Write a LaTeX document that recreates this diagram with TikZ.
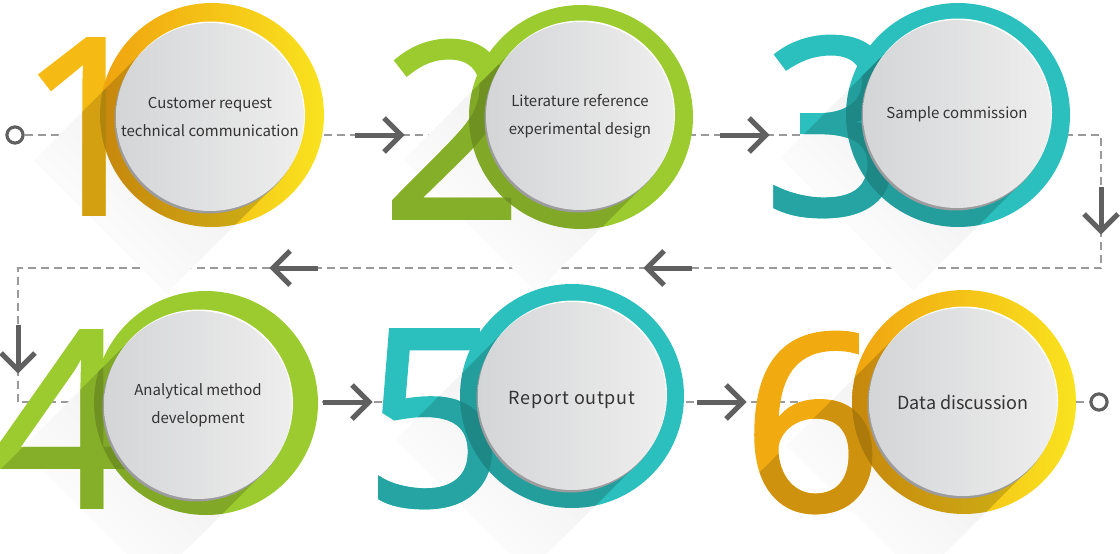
\documentclass[tikz,border=0pt]{standalone}
\usepackage{fontspec}
\newfontfamily\src{Noto Sans CJK SC}
\newfontfamily\numfont{Open Sans}[FakeBold=1.6]
\usetikzlibrary{calc}
\definecolor{dashgray}{HTML}{9A9A9A}
\definecolor{arrgray}{HTML}{606060}
\definecolor{ringO}{HTML}{F0A30F}
\definecolor{ringY}{HTML}{F9E31F}
\definecolor{numO}{HTML}{F5BA14}
\definecolor{numO6}{HTML}{F1AA10}
\definecolor{grn}{HTML}{9CCB2F}
\definecolor{tea}{HTML}{2BBFBE}
\definecolor{discL}{HTML}{D4D5D7}
\definecolor{discR}{HTML}{EEEEEE}
\definecolor{rimdark}{HTML}{9C9C9E}
\definecolor{txt}{HTML}{333333}
\tikzset{
  dashline/.style={draw=dashgray, line width=1.4pt, dash pattern=on 8pt off 5pt},
  arrowline/.style={draw=arrgray, line width=5pt},
  endpoint/.style={circle, draw=arrgray, line width=3pt, fill=white, minimum size=16pt, inner sep=0pt},
  greydisc/.style={circle, minimum size=188pt, inner sep=0pt, left color=discL, right color=discR, text=txt, align=center, font=\src\fontsize{15}{28}\selectfont},
  numeral/.style={anchor=base west, inner sep=0pt, font=\numfont\fontsize{245}{245}\selectfont},
  chevron/.pic={\draw[arrowline, line join=miter] (-17,17) -- (0,0) -- (-17,-17);}
}
\newcommand\drawstage[8]{%
  \coordinate (g#1) at (#3);
  \coordinate (r#1) at (#2);
  \path[top color=black!8, bottom color=white, shading angle=-45]
    ($(g#1)+(-66.5,-66.5)$) -- ($(g#1)+(66.5,66.5)$) -- ($(g#1)+(-43.5,176.5)$) -- ($(g#1)+(-176.5,43.5)$) -- cycle;
  \node[numeral, text=#7] (n#1) at (#5) {#6};
  \path[#4] (r#1) circle[radius=112];
  \begin{scope}
    \clip ($(g#1)+(-66.5,-66.5)$) -- ($(g#1)+(66.5,66.5)$) -- ($(g#1)+(-133.5,266.5)$) -- ($(g#1)+(-266.5,133.5)$) -- cycle;
    \node[numeral, text=#7!86!black] at (#5) {#6};
    \fill[black, opacity=.17] (r#1) circle[radius=112];
  \end{scope}
  \fill[rimdark] ($(g#1)+(-1.5,2.5)$) circle[radius=94];
  \fill[white] ($(g#1)+(1,-1.5)$) circle[radius=94];
  \node[greydisc] (s#1) at (g#1) {#8};
}
\begin{document}
\begin{tikzpicture}[x=1pt,y=-1pt]
\useasboundingbox (0,0) rectangle (1120,554);
% dashed route
\node[endpoint] (start) at (15,135) {};
\node[endpoint] (end) at (1099,402) {};
\coordinate (c1) at (1101,135);
\coordinate (c2) at (1101,268);
\coordinate (c3) at (18,268);
\coordinate (c4) at (18,402);
\draw[dashline] (start) -- (c1) -- (c2) -- (c3) -- (c4) -- (end);
\node[endpoint] at (start) {};
% stages
\drawstage{1}{212,115}{210,117}{left color=ringO, right color=ringY}{18,214}{1}{numO}{Customer request\\technical communication}
\drawstage{2}{581,117}{580,116}{fill=grn}{382,218}{2}{grn}{Literature reference\\experimental design}
\drawstage{3}{958,115}{957,114}{fill=tea}{764,214}{3}{tea}{\raisebox{-4pt}[0pt][0pt]{Sample commission}}
\drawstage{4}{206,403}{198,405}{fill=grn}{-8,507}{4}{grn}{Analytical method\\development}
\drawstage{5}{572,396}{572,396}{fill=tea}{364,505}{5}{tea}{\raisebox{-8.5pt}[0pt][0pt]{\fontsize{18}{28}\selectfont\addfontfeature{LetterSpace=4}Report output}}
\drawstage{6}{964,402}{963,402}{left color=ringO!90!numO6, right color=ringY}{742,510}{6}{numO6}{{\fontsize{18}{28}\selectfont Data discussion}}
\node[endpoint] at (end) {};
% arrows
\coordinate (a1) at (355,135); \coordinate (b1) at (401,135);
\coordinate (a2) at (720,135); \coordinate (b2) at (766,135);
\coordinate (a3) at (1101,187); \coordinate (b3) at (1101,231);
\coordinate (a4) at (692,268); \coordinate (b4) at (647,268);
\coordinate (a5) at (318,268); \coordinate (b5) at (273,268);
\coordinate (a6) at (18,325); \coordinate (b6) at (18,370);
\coordinate (a7) at (323,402); \coordinate (b7) at (369,402);
\coordinate (a8) at (697,402); \coordinate (b8) at (743,402);
\foreach \i in {1,2,7,8} {\draw[arrowline] (a\i) -- (b\i); \pic at (b\i) {chevron};}
\foreach \i in {4,5} {\draw[arrowline] (a\i) -- (b\i); \pic[rotate=180] at (b\i) {chevron};}
\foreach \i in {3,6} {\draw[arrowline] (a\i) -- (b\i); \pic[rotate=-90] at (b\i) {chevron};}
\end{tikzpicture}
\end{document}
